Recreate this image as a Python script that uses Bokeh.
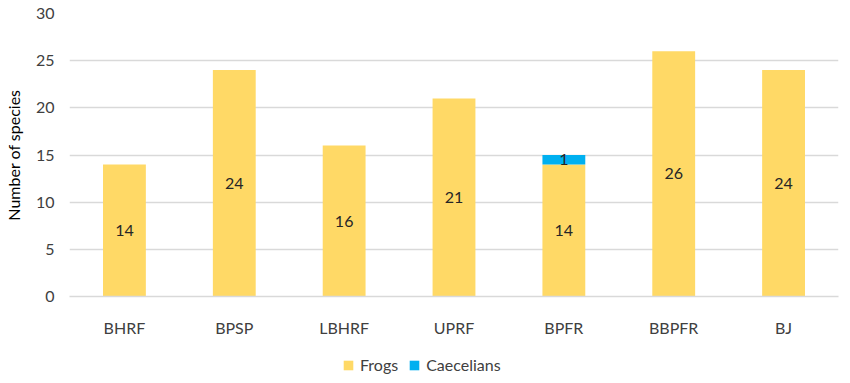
from bokeh.plotting import figure
from bokeh.models import ColumnDataSource, Legend, LegendItem, LabelSet, Range1d, FactorRange
from bokeh.layouts import column
from bokeh.core.properties import value
from bokeh.embed import file_html
from bokeh.resources import INLINE

sites = ["BHRF", "BPSP", "LBHRF", "UPRF", "BPFR", "BBPFR", "BJ"]
frogs = [14, 24, 16, 21, 14, 26, 24]
caecelians = [0, 0, 0, 0, 1, 0, 0]
y_ticks = [0, 5, 10, 15, 20, 25, 30]
series_names = ["Frogs", "Caecelians"]

FONT = "Lato"
FROG_C = "#FFD966"
CAEC_C = "#00B0F0"

src = ColumnDataSource(dict(
    site=sites,
    frogs=frogs,
    caec=caecelians,
    frog_mid=[f / 2 for f in frogs],
    caec_top=[f + c for f, c in zip(frogs, caecelians)],
    caec_mid=[f + c / 2 for f, c in zip(frogs, caecelians)],
    frog_lbl=[str(f) for f in frogs],
    caec_lbl=[str(c) if c > 0 else "" for c in caecelians],
))

p = figure(width=840, height=339, x_range=FactorRange(*sites), y_range=Range1d(0, 30),
           output_backend="svg", toolbar_location=None,
           min_border_left=67, min_border_right=2, min_border_top=13, min_border_bottom=42)
p.outline_line_color = None

r1 = p.vbar(x="site", top="frogs", bottom=0, width=0.39, color=FROG_C, line_color=None, source=src)
r2 = p.vbar(x="site", top="caec_top", bottom="frogs", width=0.39, color=CAEC_C, line_color=None, source=src)

for y, t in (("frog_mid", "frog_lbl"), ("caec_mid", "caec_lbl")):
    lab = LabelSet(x="site", y=y, text=t, source=src, text_align="center", text_baseline="middle",
                   text_font=value(FONT), text_font_size=value("16px"), text_color=value("#262626"))
    p.add_layout(lab)

p.yaxis.ticker = y_ticks
p.yaxis.axis_line_color = None
p.yaxis.major_tick_line_color = None
p.yaxis.minor_tick_line_color = None
p.yaxis.major_label_text_font = FONT
p.yaxis.major_label_text_font_size = "16px"
p.yaxis.major_label_text_color = "#404040"
p.yaxis.major_label_standoff = 9
p.yaxis.axis_label = "Number of species"
p.yaxis.axis_label_text_font = FONT
p.yaxis.axis_label_text_font_size = "16px"
p.yaxis.axis_label_text_font_style = "normal"
p.yaxis.axis_label_text_color = "#000000"
p.yaxis.axis_label_standoff = 10

p.xaxis.axis_line_color = "#D9D9D9"
p.xaxis.axis_line_width = 1.5
p.xaxis.major_tick_line_color = None
p.xaxis.minor_tick_line_color = None
p.xaxis.major_label_text_font = FONT
p.xaxis.major_label_text_font_size = "16px"
p.xaxis.major_label_text_color = "#404040"
p.xaxis.major_label_standoff = 15

p.xgrid.grid_line_color = None
p.ygrid.grid_line_color = "#D9D9D9"
p.ygrid.grid_line_width = 1.5

# legend strip
lg = figure(width=840, height=36, x_range=Range1d(0, 1), y_range=Range1d(0, 1),
            output_backend="svg", toolbar_location=None, min_border=0)
lg.outline_line_color = None
lg.axis.visible = False
lg.grid.grid_line_color = None
d1 = lg.vbar(x=[-5], top=[-5], width=0.1, color=FROG_C, line_color=None)
d2 = lg.vbar(x=[-5], top=[-5], width=0.1, color=CAEC_C, line_color=None)
legend = Legend(items=[LegendItem(label=series_names[0], renderers=[d1]),
                       LegendItem(label=series_names[1], renderers=[d2])],
                orientation="horizontal", location=(273, 1),
                label_text_font=FONT, label_text_font_size="16px", label_text_color="#404040",
                glyph_width=12, glyph_height=12, spacing=10, label_standoff=6,
                margin=0, padding=0,
                background_fill_alpha=0, border_line_color=None)
lg.add_layout(legend)

open("out.html", "w").write(file_html(column(p, lg, spacing=0), INLINE))
